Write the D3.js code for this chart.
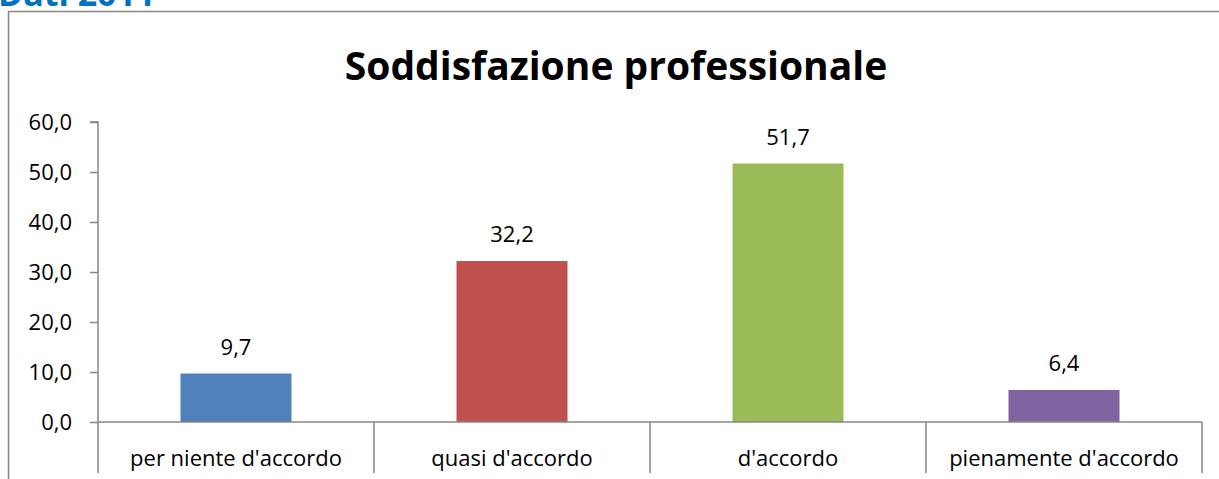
<!DOCTYPE html>
<html>
<head>
<meta charset="utf-8">
<script src="https://cdn.jsdelivr.net/npm/d3@7/dist/d3.min.js"></script>
<style>
  body { margin: 0; background: #fff; }
  svg { display: block; font-family: "Open Sans", sans-serif; }
</style>
</head>
<body>
<svg id="chart"></svg>
<script>
const categories = ["per niente d'accordo", "quasi d'accordo", "d'accordo", "pienamente d'accordo"];
const values = [9.7, 32.2, 51.7, 6.4];
const colors = ["#4F81BD", "#C0504D", "#9BBB59", "#8064A2"];
const yTicks = [0, 10, 20, 30, 40, 50, 60];
const title = "Soddisfazione professionale";
const heading = "Dati 2011";

const width = 1219;
const height = 479;
const plotL = 98, plotR = 1202, plotT = 122, plotB = 422;
const fs = 22;

const svg = d3.select('#chart').attr('width', width).attr('height', height);
const fmt = (v) => d3.format('.1f')(v).replace('.', ',');

// heading cut by the top of the page
svg.append('text')
  .attr('x', -2).attr('y', 6)
  .attr('fill', '#0070C0')
  .attr('font-weight', 'bold')
  .attr('font-size', 34)
  .text(heading);

// chart frame
svg.append('path')
  .attr('d', `M8.5,${height} V11.5 H${width}`)
  .attr('fill', 'none')
  .attr('stroke', '#868686')
  .attr('stroke-width', 1.5);

svg.append('text')
  .attr('x', 616).attr('y', 80)
  .attr('text-anchor', 'middle')
  .attr('font-weight', 'bold')
  .attr('font-size', 39)
  .attr('fill', '#000')
  .text(title);

let x = d3.scaleBand().domain(categories).range([plotL, plotR]).paddingInner(0).paddingOuter(0);
let y = d3.scaleLinear().domain([0, 60]).range([plotB, plotT]);

// y axis
let yAxis = d3.axisLeft(y).tickValues(yTicks).tickSize(8).tickPadding(18).tickFormat(fmt);
let gy = svg.append('g').attr('transform', `translate(${plotL},0)`).call(yAxis);
gy.selectAll('path, line').attr('stroke', '#868686').attr('stroke-width', 1.5);
gy.select('.domain').attr('d', `M-8,${plotT}H0V${plotB}`);
gy.selectAll('text').attr('font-size', fs).attr('fill', '#000').attr('font-family', '"Open Sans", sans-serif');

// bars
let barW = 111;
svg.selectAll('rect.bar')
  .data(values)
  .enter()
  .append('rect')
  .attr('class', 'bar')
  .attr('x', (d, i) => x(categories[i]) + (x.bandwidth() - barW) / 2)
  .attr('y', (d) => y(d))
  .attr('width', barW)
  .attr('height', (d) => y(0) - y(d))
  .attr('fill', (d, i) => colors[i]);

// data labels
svg.selectAll('text.val')
  .data(values)
  .enter()
  .append('text')
  .attr('class', 'val')
  .attr('x', (d, i) => x(categories[i]) + x.bandwidth() / 2)
  .attr('y', (d) => y(d) - 19)
  .attr('text-anchor', 'middle')
  .attr('font-size', fs)
  .text((d) => fmt(d));

// x axis with category dividers
let gx = svg.append('g').attr('transform', `translate(0,${plotB})`);
gx.append('line')
  .attr('x1', plotL).attr('x2', plotR)
  .attr('stroke', '#868686').attr('stroke-width', 1.5);
let edges = categories.map((c) => x(c)).concat([plotR]);
gx.selectAll('line.div')
  .data(edges)
  .enter()
  .append('line')
  .attr('class', 'div')
  .attr('x1', (d) => d).attr('x2', (d) => d)
  .attr('y1', 0).attr('y2', 51)
  .attr('stroke', '#868686').attr('stroke-width', 1.5);
gx.selectAll('text.cat')
  .data(categories)
  .enter()
  .append('text')
  .attr('class', 'cat')
  .attr('x', (d) => x(d) + x.bandwidth() / 2)
  .attr('y', 44)
  .attr('text-anchor', 'middle')
  .attr('font-size', fs)
  .text((d) => d);
</script>
</body>
</html>
